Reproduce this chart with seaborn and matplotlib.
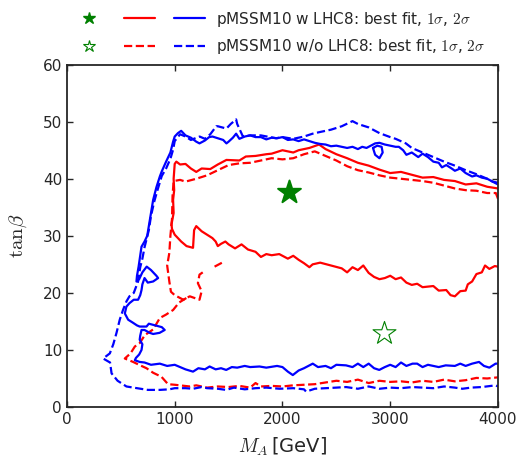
import numpy as np
import pandas as pd
import matplotlib
matplotlib.use('Agg')
import matplotlib.pyplot as plt
from matplotlib.lines import Line2D
from matplotlib.legend_handler import HandlerTuple
import seaborn as sns

# best fit points (M_A, tan beta)
best_w = (2058, 37.6)
best_wo = (2938, 12.9)

# 1 sigma, with LHC8 (red solid)
red_w_x = [4000, 3900, 3800, 3700, 3600, 3500, 3400, 3300, 3200, 3100, 3000, 2900, 2800, 2700, 2600, 2500, 2400, 2340,
           2250, 2150, 2100, 2000, 1900, 1850, 1750, 1660, 1600, 1480, 1400, 1330, 1250, 1200, 1150, 1100, 1050, 1015,
           1000, 990, 995, 985, 990, 970, 975, 1000, 1060, 1110, 1170, 1180, 1200, 1250, 1300, 1350, 1380, 1400, 1430,
           1470, 1500, 1560, 1620, 1680, 1750, 1800, 1850, 1900, 1970, 2050, 2100, 2150, 2200, 2250, 2280, 2350, 2450,
           2550, 2600, 2650, 2700, 2750, 2800, 2850, 2900, 2950, 3000, 3050, 3100, 3150, 3200, 3250, 3300, 3400, 3450,
           3520, 3560, 3600, 3650, 3700, 3720, 3760, 3800, 3850, 3880, 3920, 3970, 4000]
red_w_y = [38.3, 38.6, 39.2, 39.0, 39.6, 39.8, 40.3, 40.2, 40.7, 41.2, 41.0, 41.6, 42.3, 42.8, 43.6, 44.3, 45.2, 46.0,
           45.4, 45.0, 44.6, 45.0, 44.4, 44.3, 44.0, 43.9, 43.2, 43.3, 42.5, 41.7, 41.8, 41.2, 41.8, 42.6, 42.5, 43.0,
           42.6, 40.0, 38.0, 36.3, 34.0, 32.0, 31.2, 30.2, 29.0, 28.2, 27.9, 31.0, 31.7, 30.8, 30.2, 29.6, 29.0, 28.2, 28.6,
           29.0, 28.5, 27.8, 28.5, 27.6, 27.2, 26.3, 26.8, 26.6, 26.8, 26.0, 26.5, 25.8, 25.2, 24.5, 25.0, 25.3, 24.8,
           24.3, 23.6, 24.5, 24.0, 24.8, 23.5, 22.8, 22.4, 22.6, 23.0, 22.4, 22.7, 21.8, 21.4, 21.6, 21.0, 21.2, 20.4,
           20.5, 19.6, 19.4, 20.3, 20.4, 21.5, 22.0, 23.3, 23.6, 24.8, 24.2, 24.7, 24.6]

# 1 sigma, without LHC8 (red dashed)
red_wo_top_x = [4000, 3980, 3900, 3800, 3700, 3600, 3500, 3400, 3300, 3200, 3100, 3000, 2900, 2800, 2700, 2600, 2500,
                2400, 2300, 2200, 2100, 2000, 1900, 1800, 1700, 1600, 1500, 1400, 1300, 1200, 1100, 1050, 990, 980,
                975, 960, 950, 930, 950, 965, 1000, 1080, 1140, 1230, 1250, 1215, 1230, 1260]
red_wo_top_y = [36.5, 37.5, 37.5, 37.9, 38.0, 38.3, 38.8, 39.3, 39.6, 39.8, 40.0, 40.2, 40.6, 41.1, 41.5, 42.2, 43.2,
                44.0, 44.8, 44.3, 43.6, 43.4, 43.6, 43.2, 42.8, 42.7, 42.4, 41.5, 40.6, 40.0, 39.5, 39.8, 39.6, 37.0,
                33.0, 30.0, 27.0, 24.8, 22.0, 20.2, 19.6, 18.8, 19.4, 18.8, 20.3, 21.7, 23.2, 23.6]
red_wo_bot_x = [1108, 1040, 985, 920, 862, 800, 723, 675, 630, 590, 537, 614, 680, 738, 800, 877, 938, 1000, 1139, 1200,
                1300, 1400, 1500, 1600, 1700, 1750, 1800, 1900, 2000, 2100, 2200, 2300, 2400, 2500, 2600, 2700, 2800,
                2900, 3000, 3100, 3200, 3300, 3400, 3500, 3600, 3700, 3800, 3900, 4000]
red_wo_bot_y = [19.1, 18.3, 17.0, 16.2, 15.6, 13.6, 12.6, 11.2, 10.6, 9.4, 8.5, 7.9, 7.3, 6.8, 6.0, 5.3, 4.0, 3.9, 3.6, 3.8,
                3.4, 3.6, 3.5, 3.7, 3.4, 4.2, 3.6, 3.7, 3.6, 3.8, 3.9, 4.0, 4.3, 4.6, 4.4, 4.8, 4.2, 4.6, 4.4, 4.5, 4.3,
                4.6, 4.4, 4.8, 4.5, 4.7, 5.1, 5.0, 5.2]
red_wo_bit_x = [1370, 1410, 1450]
red_wo_bit_y = [24.6, 25.0, 25.4]

# 2 sigma, with LHC8 (blue solid)
blue_w_x = [4000, 3950, 3900, 3850, 3800, 3760, 3700, 3650, 3600, 3570, 3520, 3480, 3450, 3400, 3350, 3300, 3260, 3200,
            3150, 3120, 3080, 3050, 3000, 2950, 2900, 2860, 2820, 2780, 2740, 2700, 2650, 2600, 2550, 2500, 2450, 2400,
            2350, 2300, 2250, 2200, 2150, 2100, 2050, 2000, 1950, 1900, 1850, 1800, 1750, 1700, 1650, 1600, 1570, 1540,
            1500, 1480, 1450, 1400, 1350, 1320, 1280, 1230, 1200, 1150, 1100, 1060, 1030, 1000, 985, 960, 920, 880, 862,
            830, 800, 780, 760, 745, 720, 692, 680, 665, 650, 645, 670, 700, 740, 780, 830, 846, 800, 750, 720, 700, 692,
            680, 660, 620, 580, 552, 537, 560, 568, 610, 650, 675, 738, 760, 820, 880, 907, 860, 800, 768, 720, 692, 680,
            675, 700, 692, 670, 640, 630, 675, 720, 780, 862, 930, 1000, 1050, 1100, 1170, 1220, 1280, 1324, 1380, 1430,
            1478, 1530, 1580, 1650, 1700, 1787, 1850, 1950, 2000, 2050, 2096, 2150, 2200, 2281, 2330, 2400, 2450, 2500,
            2590, 2650, 2700, 2750, 2800, 2850, 2898, 2950, 3000, 3050, 3100, 3150, 3207, 3250, 3300, 3350, 3400, 3450,
            3515, 3600, 3650, 3700, 3760, 3824, 3870, 3920, 3978, 4000]
blue_w_y = [39.3, 39.5, 40.0, 40.2, 40.6, 40.4, 41.0, 41.8, 41.4, 41.8, 42.4, 42.0, 42.8, 43.0, 43.8, 44.4, 43.8, 44.6,
            44.2, 45.0, 45.6, 45.6, 45.8, 46.0, 46.3, 46.2, 45.8, 45.4, 45.6, 45.2, 45.6, 45.4, 45.6, 45.8, 45.7, 46.0,
            46.1, 46.3, 46.6, 46.9, 46.6, 46.9, 46.8, 47.3, 47.1, 47.2, 46.9, 47.3, 47.3, 47.6, 47.4, 47.0, 47.9, 47.2,
            46.5, 46.2, 46.8, 47.1, 47.4, 47.3, 46.7, 46.2, 46.5, 47.2, 47.6, 48.4, 48.0, 47.4, 46.5, 44.6, 43.0, 41.3, 40.4,
            38.5, 36.3, 34.0, 31.8, 30.0, 29.0, 28.1, 26.5, 24.6, 23.0, 22.0, 22.4, 23.6, 24.6, 24.0, 23.0, 22.6, 22.0, 21.8,
            22.6, 21.5, 20.5, 19.6, 18.8, 18.8, 18.2, 17.6, 16.4, 15.6, 15.3, 14.8, 14.3, 14.1, 14.1, 14.6, 14.3, 14.0, 13.5,
            13.0, 12.8, 13.0, 13.5, 13.5, 12.5, 11.8, 11.0, 10.0, 9.2, 8.6, 8.2, 7.9, 7.8, 7.4, 7.6, 7.2, 7.4, 7.0, 6.6, 6.2,
            6.8, 6.6, 7.1, 6.6, 6.8, 6.5, 7.0, 6.9, 7.2, 7.0, 7.1, 6.9, 7.2, 7.0, 6.2, 5.6, 6.4, 6.8, 7.6, 7.0, 7.2, 6.8,
            7.4, 7.3, 7.0, 7.6, 7.0, 7.6, 6.8, 6.5, 7.0, 7.4, 7.0, 7.8, 7.2, 7.6, 7.6, 7.0, 7.4, 7.2, 7.0, 7.3, 7.2, 7.6,
            7.2, 7.6, 7.9, 7.2, 6.9, 7.6, 7.6]
blue_w_loop_x = [2840, 2880, 2920, 2930, 2900, 2860, 2840]
blue_w_loop_y = [45.4, 45.8, 45.6, 44.6, 43.6, 44.2, 45.4]

# 2 sigma, without LHC8 (blue dashed)
blue_wo_x = [4000, 3900, 3800, 3700, 3600, 3500, 3400, 3300, 3200, 3145, 3050, 3000, 2900, 2800, 2700, 2650, 2550, 2450,
             2350, 2280, 2200, 2100, 2000, 1940, 1800, 1700, 1633, 1580, 1570, 1520, 1480, 1400, 1386, 1330, 1280, 1231,
             1150, 1100, 1050, 1000, 985, 960, 920, 880, 840, 810, 780, 760, 740, 720, 700, 680, 660, 620, 580, 552, 520,
             490, 460, 430, 398, 336, 400, 414, 470, 552, 650, 750, 862, 950, 1000, 1100, 1170, 1250, 1300, 1400, 1478,
             1550, 1650, 1750, 1850, 1972, 2100, 2200, 2219, 2300, 2400, 2500, 2590, 2700, 2800, 2900, 3000, 3100, 3207,
             3300, 3400, 3500, 3600, 3670, 3750, 3850, 3978, 4000]
blue_wo_y = [39.0, 40.0, 40.8, 41.5, 42.3, 43.0, 43.8, 44.6, 45.4, 46.2, 47.0, 47.3, 48.0, 49.0, 49.6, 50.1, 49.2, 48.6,
             48.2, 47.9, 47.4, 47.0, 47.3, 47.1, 47.6, 47.6, 47.4, 49.6, 50.4, 49.6, 48.8, 49.2, 49.2, 47.8, 47.0, 47.4,
             46.8, 47.4, 47.8, 46.6, 45.1, 43.5, 41.8, 40.5, 38.0, 36.0, 33.5, 31.0, 29.5, 28.0, 26.0, 24.5, 22.0, 20.0,
             19.4, 18.5, 17.0, 15.3, 13.0, 11.0, 9.4, 8.5, 7.8, 5.9, 4.6, 3.6, 3.3, 3.0, 3.0, 3.1, 3.3, 3.3, 3.2, 3.5, 3.3,
             3.2, 3.0, 3.4, 3.1, 3.3, 3.4, 3.2, 3.3, 3.1, 2.7, 3.2, 3.3, 3.4, 3.5, 3.2, 3.6, 3.2, 3.4, 3.3, 3.5, 3.4, 3.3,
             3.6, 3.4, 3.2, 3.4, 3.5, 3.8, 3.6]

sns.set_style("ticks")
plt.rcParams['font.family'] = ['DejaVu Sans']
plt.rcParams['mathtext.fontset'] = 'cm'
plt.rcParams['xtick.direction'] = 'in'
plt.rcParams['ytick.direction'] = 'in'
plt.rcParams['xtick.top'] = True
plt.rcParams['ytick.right'] = True

fig = plt.figure(figsize=(5.19, 4.65), dpi=100)
ax = fig.add_axes([0.129, 0.1247, 0.8305, 0.7363])

lw = 1.6
curves = [
    (red_w_x, red_w_y, 'red', '-'),
    (red_wo_top_x, red_wo_top_y, 'red', '--'),
    (red_wo_bot_x, red_wo_bot_y, 'red', '--'),
    (red_wo_bit_x, red_wo_bit_y, 'red', '--'),
    (blue_w_x, blue_w_y, 'blue', '-'),
    (blue_w_loop_x, blue_w_loop_y, 'blue', '-'),
    (blue_wo_x, blue_wo_y, 'blue', '--'),
]
for cx, cy, col, ls in curves:
    sns.lineplot(x=cx, y=cy, sort=False, estimator=None, color=col, linestyle=ls, lw=lw, ax=ax)

sns.scatterplot(x=[best_w[0]], y=[best_w[1]], marker='*', s=300, color='green', edgecolor='green', ax=ax, zorder=5)
sns.scatterplot(x=[best_wo[0]], y=[best_wo[1]], marker='*', s=300, facecolor='white', edgecolor='green',
                linewidth=0.8, ax=ax, zorder=5)

ax.set_xlim(0, 4000)
ax.set_ylim(0, 60)
ax.set_xticks([0, 1000, 2000, 3000, 4000])
ax.set_yticks([0, 10, 20, 30, 40, 50, 60])
ax.tick_params(labelsize=11, length=4, width=1)
for s in ax.spines.values():
    s.set_linewidth(1.3)
ax.set_xlabel(r'$M_A\,$[GeV]', fontsize=14, labelpad=6)
ax.set_ylabel(r'$\mathrm{tan}\beta$', fontsize=15, labelpad=10)

# legend above the axes
star_w = Line2D([], [], marker='*', color='green', linestyle='none', markersize=9)
star_wo = Line2D([], [], marker='*', markerfacecolor='white', markeredgecolor='green', linestyle='none',
                 markersize=9, markeredgewidth=0.8)
red_s = Line2D([], [], color='red', lw=lw)
blue_s = Line2D([], [], color='blue', lw=lw)
red_d = Line2D([], [], color='red', lw=lw, linestyle='--')
blue_d = Line2D([], [], color='blue', lw=lw, linestyle='--')
fig.legend([(star_w, red_s, blue_s), (star_wo, red_d, blue_d)],
           [r'pMSSM10 w LHC8: best fit, $1\sigma$, $2\sigma$', r'pMSSM10 w/o LHC8: best fit, $1\sigma$, $2\sigma$'],
           handler_map={tuple: HandlerTuple(ndivide=None, pad=1.2)},
           loc='upper left', bbox_to_anchor=(0.142, 0.979), frameon=False, fontsize=11,
           handlelength=8.6, handletextpad=0.7, borderpad=0, borderaxespad=0, labelspacing=0.55)

fig.savefig('out.png', dpi=100)
